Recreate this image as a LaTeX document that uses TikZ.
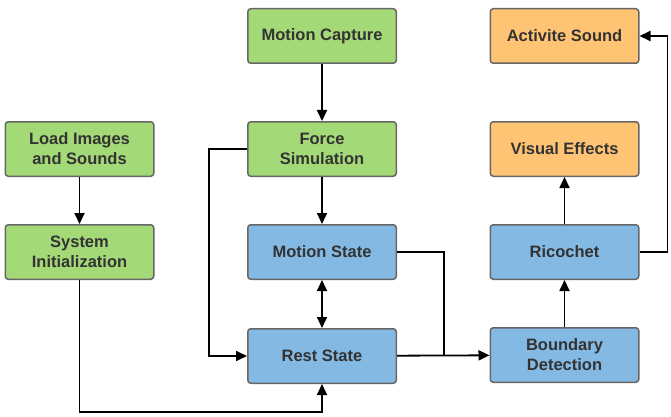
\documentclass[tikz,border=0pt]{standalone}
\usepackage{fontspec}
\setmainfont{Liberation Sans}
\usetikzlibrary{arrows.meta, positioning}
\definecolor{initgreen}{HTML}{A3D977}
\definecolor{stateblue}{HTML}{83B9E3}
\definecolor{fxorange}{HTML}{FFC374}
\definecolor{boxgray}{HTML}{666666}
\definecolor{textgray}{HTML}{333333}

\begin{document}
\begin{tikzpicture}[node distance=47pt, auto,
  block/.style={rectangle, draw=boxgray, line width=1.5pt, rounded corners=3pt, minimum width=148.5pt, minimum height=54.5pt, inner sep=2pt, font=\fontsize{16.5}{20}\selectfont\bfseries, text=textgray, align=center},
  arrow/.style={-{Triangle[length=11pt, width=10pt]}, line width=1.8pt},
  dblarrow/.style={{Triangle[length=11pt, width=10pt]}-{Triangle[length=11pt, width=10pt]}, line width=1.8pt},
  line/.style={line width=1.8pt}]

\useasboundingbox (0,0) rectangle (671pt,-417pt);

\node[block, fill=initgreen] (capture) at (322pt,-36pt) {Motion Capture};
\node[block, fill=initgreen, below=57pt of capture] (force) {Force\\Simulation};
\node[block, fill=stateblue, below=of force] (motion) {Motion State};
\node[block, fill=stateblue, below=48pt of motion] (rest) {Rest State};
\node[block, fill=initgreen, left=92.5pt of force] (load) {Load Images\\and Sounds};
\node[block, fill=initgreen, below=of load] (init) {System\\Initialization};
\node[block, fill=fxorange, right=92.5pt of capture] (sound) {Activite Sound};
\node[block, fill=fxorange, below=57pt of sound] (visual) {Visual Effects};
\node[block, fill=stateblue, below=of visual] (ricochet) {Ricochet};
\node[block, fill=stateblue, below=of ricochet] (boundary) {Boundary\\Detection};
\coordinate[right=47pt of rest.east] (merge);

\draw[arrow] (load) -- (init);
\draw[arrow] (init.south) -- ++(0,-132pt) -| (rest.south);
\draw[arrow] (capture) -- (force);
\draw[arrow] (force) -- (motion);
\draw[arrow] (force.west) -- ++(-38pt,0) |- (rest.west);
\draw[dblarrow] (motion) -- (rest);
\draw[line] (motion.east) -| (merge);
\draw[arrow] (rest) -- (boundary);
\draw[arrow] (boundary) -- (ricochet);
\draw[arrow] (ricochet) -- (visual);
\draw[arrow] (ricochet.east) -- ++(28pt,0) |- (sound.east);
\end{tikzpicture}
\end{document}
